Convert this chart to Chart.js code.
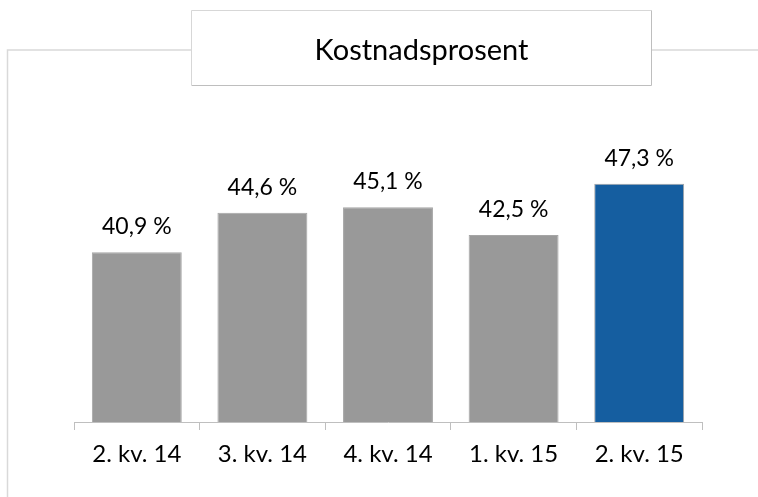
<!DOCTYPE html>
<html>
<head>
<meta charset="utf-8">
<script src="https://cdn.jsdelivr.net/npm/chart.js@4"></script>
<style>
    html, body { margin: 0; padding: 0; background: #ffffff; }
    #wrap { width: 758px; height: 497px; position: relative; }
</style>
</head>
<body>
<div id="wrap"><canvas id="chart_canvas"></canvas></div>
<script>
Chart.defaults.font.family = 'Lato';
Chart.defaults.color = 'rgb(0, 0, 0)';

const grey_color = 'rgb(153, 153, 153)';
const blue_color = 'rgb(21, 94, 160)';
const frame_color = 'rgb(217, 217, 217)';

const title = 'Kostnadsprosent';
const quarters = ['2. kv. 14', '3. kv. 14', '4. kv. 14', '1. kv. 15', '2. kv. 15'];
const costPercent = [40.9, 44.6, 45.1, 42.5, 47.3];
const barColors = [grey_color, grey_color, grey_color, grey_color, blue_color];

const canvas = document.getElementById('chart_canvas');

// frame line round the chart and the boxed title
const framePlugin = {
    id: 'frame',
    beforeDraw(chart) {
        const ctx = chart.ctx;
        ctx.save();
        ctx.strokeStyle = frame_color;
        ctx.lineWidth = 1.5;
        ctx.beginPath();
        ctx.moveTo(7.5, 497);
        ctx.lineTo(7.5, 50);
        ctx.lineTo(191, 50);
        ctx.moveTo(652, 50);
        ctx.lineTo(758, 50);
        ctx.stroke();

        ctx.fillStyle = '#ffffff';
        ctx.fillRect(191, 10, 461, 75);
        ctx.lineWidth = 1;
        ctx.strokeStyle = 'rgb(215, 215, 215)';
        ctx.beginPath();
        ctx.moveTo(191.5, 85);
        ctx.lineTo(191.5, 10.5);
        ctx.lineTo(651.5, 10.5);
        ctx.stroke();
        ctx.strokeStyle = 'rgb(190, 190, 190)';
        ctx.beginPath();
        ctx.moveTo(651.5, 10.5);
        ctx.lineTo(651.5, 85.5);
        ctx.lineTo(191.5, 85.5);
        ctx.stroke();

        ctx.fillStyle = 'rgb(0, 0, 0)';
        ctx.font = '29px Lato';
        ctx.textAlign = 'center';
        ctx.textBaseline = 'alphabetic';
        ctx.fillText(title, 421.5, 60);
        ctx.restore();
    }
};

// value labels above the bars
const valueLabels = {
    id: 'valueLabels',
    afterDatasetsDraw(chart) {
        const ctx = chart.ctx;
        const meta = chart.getDatasetMeta(0);
        ctx.save();
        ctx.fillStyle = 'rgb(0, 0, 0)';
        ctx.font = '23px Lato';
        ctx.textAlign = 'center';
        ctx.textBaseline = 'alphabetic';
        meta.data.forEach((bar, i) => {
            const text = costPercent[i].toFixed(1).replace('.', ',') + ' %';
            ctx.fillText(text, bar.x, bar.y - 18);
        });
        ctx.restore();
    }
};

new Chart(canvas, {
    type: 'bar',
    data: {
        labels: quarters,
        datasets: [{
            data: costPercent,
            backgroundColor: barColors,
            borderColor: 'rgb(165, 165, 165)',
            borderWidth: 1,
            categoryPercentage: 1,
            barPercentage: 0.716
        }]
    },
    options: {
        responsive: true,
        maintainAspectRatio: false,
        animation: false,
        layout: {
            padding: { left: 74, right: 56, top: 155, bottom: 0 }
        },
        plugins: {
            legend: { display: false },
            tooltip: { enabled: false }
        },
        scales: {
            x: {
                grid: {
                    offset: true,
                    drawOnChartArea: false,
                    tickLength: 8,
                    color: 'rgb(191, 191, 191)'
                },
                border: { display: true, color: 'rgb(191, 191, 191)', width: 1 },
                ticks: {
                    font: { size: 24 },
                    color: 'rgb(0, 0, 0)',
                    padding: 10
                },
                afterFit(scale) {
                    scale.height = 75;
                }
            },
            y: {
                display: false,
                min: 25,
                max: 50
            }
        }
    },
    plugins: [framePlugin, valueLabels]
});
</script>
</body>
</html>
